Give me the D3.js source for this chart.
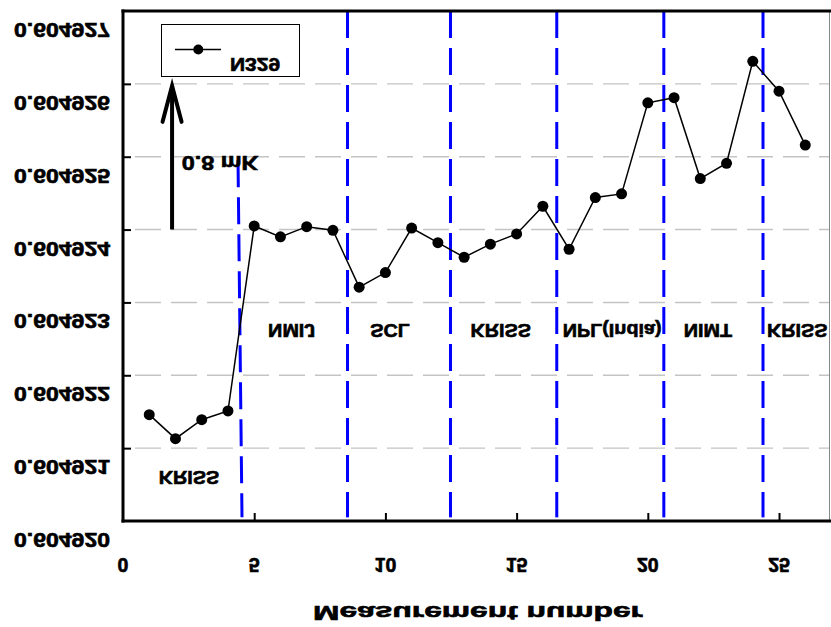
<!DOCTYPE html>
<html>
<head>
<meta charset="utf-8">
<script src="https://cdn.jsdelivr.net/npm/d3@7"></script>
<style>
  html, body { margin: 0; padding: 0; background: #fff; }
  svg { display: block; }
  text { font-family: "Liberation Sans", Arial, sans-serif; font-weight: bold; fill: #000; stroke: #000; stroke-width: 0.6px; }
</style>
</head>
<body>
<svg id="chart" width="831" height="627"></svg>
<script>
// ---- data ----
const measurementNumber = [1,2,3,4,5,6,7,8,9,10,11,12,13,14,15,16,17,18,19,20,21,22,23,24,25,26];
const n329 = [
  0.60492146, 0.60492113, 0.60492139, 0.60492151,
  0.60492405, 0.60492390, 0.60492404, 0.60492399,
  0.60492321, 0.60492341, 0.60492402, 0.60492382,
  0.60492362, 0.60492380, 0.60492394, 0.60492432,
  0.60492373, 0.60492444, 0.60492449, 0.60492574,
  0.60492581, 0.60492470, 0.60492491, 0.60492631,
  0.60492590, 0.60492516
];
const yTicks = [0.604920, 0.604921, 0.604922, 0.604923, 0.604924, 0.604925, 0.604926, 0.604927];
const xTicks = [0, 5, 10, 15, 20, 25];
const labs = ["KRISS", "NMIJ", "SCL", "KRISS", "NPL(India)", "NIMT", "KRISS"];
const labX = [2.51, 6.43, 10.18, 14.39, 18.64, 22.29, 25.69];
const labY = [0.60492068, 0.6049227, 0.6049227, 0.6049227, 0.6049227, 0.6049227, 0.6049227];
// boundaries between laboratories: [x at top, x at bottom, top value]
const boundaries = [
  [4.383, 4.535, 0.60492495],
  [8.556, 8.556, 0.604927],
  [12.48, 12.48, 0.604927],
  [16.53, 16.53, 0.604927],
  [20.61, 20.61, 0.604927],
  [24.39, 24.39, 0.604927]
];
const arrowX = 1.87;
const arrowFrom = 0.604924, arrowTo = 0.604926;
const arrowLabel = "0.8 mK";
const seriesName = "N329";
const xTitle = "Measurement number";

// ---- layout ----
const svg = d3.select("#chart");
const x = d3.scaleLinear().domain([0, 27]).range([123, 831.5]);
const y = d3.scaleLinear().domain([0.604920, 0.604927]).range([521, 11]);
const fmt = d3.format(".6f");

// vertically mirrored text helper (glyphs flipped about their baseline)
function ftext(g, str, px, py, size, sx, anchor) {
  return g.append("text")
    .attr("transform", `translate(${px},${py}) scale(${sx},-1)`)
    .attr("text-anchor", anchor)
    .style("font-size", size + "px")
    .text(str);
}

// grid lines
svg.append("g").selectAll("line")
  .data(yTicks.slice(1, -1))
  .join("line")
  .attr("x1", x(0)).attr("x2", 829)
  .attr("y1", d => y(d)).attr("y2", d => y(d))
  .attr("stroke", "#c4c4c4").attr("stroke-width", 1.4)
  .attr("stroke-dasharray", "26,10").attr("stroke-dashoffset", -12);

// boundaries
svg.append("g").selectAll("line")
  .data(boundaries)
  .join("line")
  .attr("x1", d => x(d[0])).attr("x2", d => x(d[1]))
  .attr("y1", d => y(d[2])).attr("y2", y(0.60492005))
  .attr("stroke", "#0000ff").attr("stroke-width", 3)
  .attr("stroke-dasharray", "27,10");

// frame
svg.append("line").attr("x1", 829.5).attr("x2", 829.5).attr("y1", 11).attr("y2", 521)
  .attr("stroke", "#888").attr("stroke-width", 1);
svg.append("line").attr("x1", 121.5).attr("x2", 831).attr("y1", 11).attr("y2", 11)
  .attr("stroke", "#000").attr("stroke-width", 3);

// axes
const xAxis = d3.axisBottom(x).tickValues(xTicks.slice(1)).tickSize(-8).tickFormat("");
const gx = svg.append("g").attr("transform", "translate(0,521)").call(xAxis);
gx.select(".domain").attr("d", "M121.5,0H831").attr("stroke-width", 3);
gx.selectAll(".tick line").attr("stroke-width", 2);

const yAxis = d3.axisLeft(y).tickValues(yTicks.slice(1, -1)).tickSize(-8).tickFormat("");
const gy = svg.append("g").attr("transform", "translate(123,0)").call(yAxis);
gy.select(".domain").attr("d", "M0,9.5V522.5").attr("stroke-width", 3);
gy.selectAll(".tick line").attr("stroke-width", 2);

// tick labels (mirrored)
const labelsG = svg.append("g");
yTicks.forEach(v => ftext(labelsG, fmt(v), 110, y(v) + 12, 19.5, 1.18, "end"));
xTicks.forEach(v => ftext(labelsG, String(v), x(v), 558, 19.5, 1.0, "middle"));
ftext(labelsG, xTitle, 478, 606, 20.5, 1.55, "middle");

// lab labels
labs.forEach((s, i) => ftext(labelsG, s, x(labX[i]), y(labY[i]), 18.5, 1.07, "middle"));

// series line & markers
const pts = measurementNumber.map((m, i) => [m, n329[i]]);
svg.append("path")
  .datum(pts)
  .attr("fill", "none").attr("stroke", "#000").attr("stroke-width", 1.5)
  .attr("d", d3.line().x(d => x(d[0])).y(d => y(d[1])));
svg.append("g").selectAll("circle")
  .data(pts).join("circle")
  .attr("cx", d => x(d[0])).attr("cy", d => y(d[1])).attr("r", 5.5)
  .attr("fill", "#000");

// arrow
const ax = x(arrowX);
svg.append("line").attr("x1", ax).attr("x2", ax)
  .attr("y1", y(arrowFrom)).attr("y2", y(arrowTo) + 2)
  .attr("stroke", "#000").attr("stroke-width", 4);
svg.append("path")
  .attr("d", `M${ax - 9.5},${y(arrowTo) + 38}L${ax},${y(arrowTo) + 2}L${ax + 9.5},${y(arrowTo) + 38}`)
  .attr("fill", "none").attr("stroke", "#000").attr("stroke-width", 4)
  .attr("stroke-linecap", "round").attr("stroke-linejoin", "miter");
ftext(labelsG, arrowLabel, 181.7, 156, 19.5, 1.2, "start");

// legend
const lg = svg.append("g");
lg.append("rect").attr("x", 161.5).attr("y", 24.5).attr("width", 138).attr("height", 52)
  .attr("fill", "#fff").attr("stroke", "#000").attr("stroke-width", 1);
lg.append("line").attr("x1", 175).attr("x2", 221).attr("y1", 49.5).attr("y2", 49.5)
  .attr("stroke", "#000").attr("stroke-width", 1.5);
lg.append("circle").attr("cx", 198.3).attr("cy", 49.5).attr("r", 5).attr("fill", "#000");
ftext(lg, seriesName, 230, 58.3, 18.7, 1.12, "start");
</script>
</body>
</html>
